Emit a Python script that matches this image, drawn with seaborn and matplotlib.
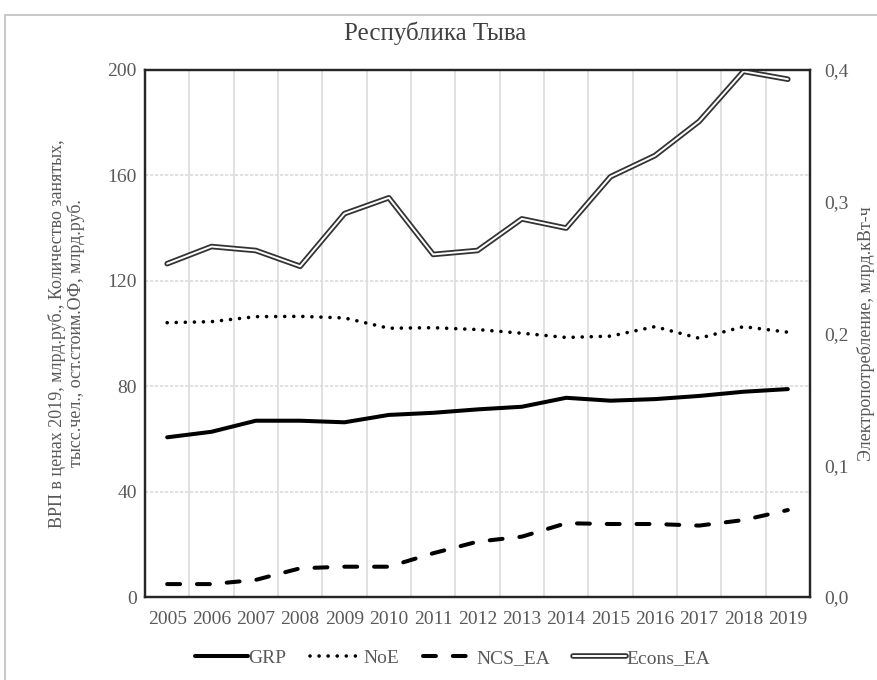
# ── SECTION 1: IMPORT LIBRARIES ──────────────────────────────
import numpy as np
import pandas as pd
import matplotlib
matplotlib.use("Agg")
import matplotlib.pyplot as plt
import matplotlib.patheffects as pe
from matplotlib.patches import Rectangle
from matplotlib.ticker import FuncFormatter, MultipleLocator
import seaborn as sns


# ── SECTION 2: DATA ──────────────────────────────────────────
# Values (Республика Тыва)
years = [2005, 2006, 2007, 2008, 2009, 2010, 2011, 2012,
         2013, 2014, 2015, 2016, 2017, 2018, 2019]

grp = [60.6, 62.7, 66.9, 66.9, 66.3, 69.1, 69.9, 71.2,
       72.2, 75.6, 74.5, 75.1, 76.3, 77.9, 78.9]

noe = [104.1, 104.5, 106.4, 106.5, 105.9, 102.0, 102.2, 101.5,
       100.1, 98.5, 99.0, 102.6, 98.2, 102.6, 100.5]

ncs_ea = [4.9, 4.9, 6.5, 10.9, 11.5, 11.5, 16.6, 21.0,
          22.9, 28.0, 27.7, 27.7, 27.1, 29.2, 33.0]

# electricity consumption, right axis (bln kWh)
econs_ea = [0.253, 0.266, 0.263, 0.251, 0.291, 0.303, 0.260, 0.263,
            0.287, 0.280, 0.319, 0.335, 0.361, 0.399, 0.393]

df = pd.DataFrame({"Year": years, "GRP": grp, "NoE": noe,
                   "NCS_EA": ncs_ea, "Econs_EA": econs_ea})


# ── SECTION 3: STYLE ─────────────────────────────────────────
sns.set_style("white")
plt.rcParams["font.family"] = ["Liberation Serif", "DejaVu Serif"]
grey_text = "#595959"

fig = plt.figure(figsize=(8.77, 6.8), dpi=100)
ax1 = fig.add_axes([145 / 877, 1 - 597 / 680, 665 / 877, 527 / 680])
ax2 = ax1.twinx()


# ── SECTION 4: LINES ─────────────────────────────────────────
sns.lineplot(data=df, x="Year", y="GRP", ax=ax1, color="black",
             linewidth=2.9, label="GRP", legend=False)

sns.lineplot(data=df, x="Year", y="NoE", ax=ax1, color="black",
             linewidth=2.6, label="NoE", legend=False)
ax1.lines[-1].set_dashes((0.01, 2.5))
ax1.lines[-1].set_dash_capstyle("round")

sns.lineplot(data=df, x="Year", y="NCS_EA", ax=ax1, color="black",
             linewidth=2.9, label="NCS_EA", legend=False)
ax1.lines[-1].set_dashes((3.2, 4.2))
ax1.lines[-1].set_dash_capstyle("round")

# double line: dark stroke with a white core
sns.lineplot(data=df, x="Year", y="Econs_EA", ax=ax2, color="white",
             linewidth=1.4, label="Econs_EA", legend=False)
ax2.lines[-1].set_path_effects([pe.Stroke(linewidth=4.0, foreground="#333333"),
                                pe.Normal()])


# ── SECTION 5: AXES ──────────────────────────────────────────
ax1.set_xlim(2004.5, 2019.5)
ax1.set_ylim(0, 200)
ax2.set_ylim(0, 0.4)
ax1.set_xticks(years)
ax1.xaxis.set_minor_locator(MultipleLocator(1, offset=0.5))
ax1.set_yticks([0, 40, 80, 120, 160, 200])
ax2.set_yticks([0, 0.1, 0.2, 0.3, 0.4])
ax2.yaxis.set_major_formatter(FuncFormatter(lambda v, p: f"{v:.1f}".replace(".", ",")))

# Excel style grid: vertical lines between categories, horizontal on majors
ax1.grid(which="minor", axis="x", color="#dcdcdc", linewidth=1.2)
ax1.grid(which="major", axis="y", color="#dcdcdc", linewidth=1.2, linestyle=(0, (2, 1)))
ax1.grid(which="major", axis="x", visible=False)
ax2.grid(False)

for ax in (ax1, ax2):
    ax.tick_params(which="both", length=0, labelsize=14, labelcolor=grey_text)
    for s in ax.spines.values():
        s.set_visible(True)
        s.set_color("#262626")
        s.set_linewidth(1.6)
ax1.tick_params(axis="x", pad=10)
ax1.tick_params(axis="y", pad=6)
ax2.tick_params(axis="y", pad=10)

ax1.set_xlabel("")
ax1.set_ylabel("ВРП в ценах 2019, млрд.руб., Количество занятых,\n"
               "тысс.чел., ост.стоим.ОФ, млрд.руб.",
               fontsize=13, color=grey_text, labelpad=16, linespacing=1.05)
ax2.set_ylabel("Электропотребление, млрд.кВт-ч", fontsize=13,
               color=grey_text, labelpad=6)

fig.text(435 / 877, 1 - 33 / 680, "Республика Тыва", fontsize=18,
         color="#404040", ha="center", va="center")


# ── SECTION 6: LEGEND ────────────────────────────────────────
h1, l1 = ax1.get_legend_handles_labels()
h2, l2 = ax2.get_legend_handles_labels()
fig.legend(h1 + h2, l1 + l2, loc="center", ncol=4,
           bbox_to_anchor=(453 / 877, 1 - 658 / 680), frameon=False,
           fontsize=14, handlelength=2.7, handletextpad=0.05,
           columnspacing=1.2, labelcolor=grey_text)

# thin frame round the whole chart area
fig.patches.append(Rectangle((5 / 877, -0.01), 1.0, 1 - 15 / 680 + 0.01,
                             transform=fig.transFigure, fill=False,
                             edgecolor="#bfbfbf", linewidth=1.2))

fig.savefig("out.png", dpi=100)
